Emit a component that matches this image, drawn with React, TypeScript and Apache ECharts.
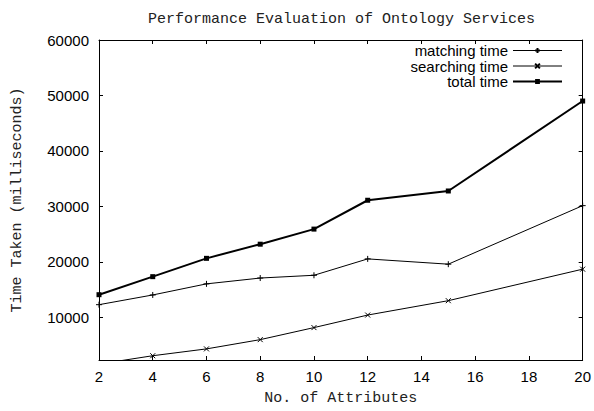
import React, { useEffect, useRef } from "react";
import * as echarts from "echarts";

const attributes = [2, 4, 6, 8, 10, 12, 15, 20];
const matchingTime = [12300, 14050, 16050, 17100, 17600, 20550, 19600, 30150];
const searchingTime = [1600, 3100, 4330, 6000, 8170, 10430, 13020, 18700];
const totalTime = [14100, 17350, 20650, 23200, 25920, 31120, 32790, 49000];
const xTicks = [2, 4, 6, 8, 10, 12, 14, 16, 18, 20];
const yTicks = [10000, 20000, 30000, 40000, 50000, 60000];

const Y_MIN = 2330;
const Y_MAX = 60000;

const MONO = "'Liberation Mono', 'DejaVu Sans Mono', monospace";
const SANS = "'Liberation Sans', Arial, sans-serif";

const plusPath = "path://M0,5L10,5M5,0L5,10";
const crossPath = "path://M0,0L10,10M0,10L10,0";

export default function App() {
  const ref = useRef<HTMLDivElement>(null);
  useEffect(() => {
    document.body.style.margin = "0";
    if (!ref.current) return;
    const chart = echarts.init(ref.current, null, { renderer: "svg" });
    const pairs = (ys: number[]) => attributes.map((x, i) => [x, ys[i]]);
    const plain = (v: number) => String(v);
    const baseX = {
      type: "value" as const,
      min: 2,
      max: 20,
      interval: 2,
      splitLine: { show: false },
      axisLine: { show: true, onZero: false, lineStyle: { color: "#000", width: 1 } },
      axisTick: { show: true, inside: true, length: 4, lineStyle: { color: "#000" } },
    };
    const baseY = {
      type: "value" as const,
      min: Y_MIN,
      max: Y_MAX,
      splitLine: { show: false },
      axisLine: { show: true, onZero: false, lineStyle: { color: "#000", width: 1 } },
      axisTick: { show: true, inside: true, length: 4, customValues: yTicks, lineStyle: { color: "#000" } },
    };
    chart.setOption({
      animation: false,
      backgroundColor: "#fff",
      title: {
        text: "Performance Evaluation of Ontology Services",
        left: 143,
        top: 7,
        textStyle: { fontFamily: MONO, fontSize: 15, fontWeight: "normal", color: "#222" },
      },
      grid: { left: 99, right: 11, top: 40, bottom: 46, containLabel: false },
      legend: {
        orient: "vertical",
        right: 26,
        top: 38,
        align: "right",
        itemWidth: 49,
        itemHeight: 6,
        itemGap: 0.5,
        textStyle: { fontFamily: SANS, fontSize: 15, color: "#000", lineHeight: 15 },
        data: [
          { name: "matching time", lineStyle: { width: 1, color: "#000" } },
          { name: "searching time", lineStyle: { width: 1, color: "#000" } },
          { name: "total time", lineStyle: { width: 2, color: "#000" } },
        ],
      },
      xAxis: [
        {
          ...baseX,
          position: "bottom",
          name: "No. of Attributes",
          nameLocation: "middle",
          nameGap: 31,
          nameTextStyle: { fontFamily: MONO, fontSize: 15, color: "#222" },
          axisLabel: { fontFamily: SANS, fontSize: 15, color: "#000", margin: 9, customValues: xTicks, formatter: plain },
        },
        {
          ...baseX,
          position: "top",
          axisLabel: { show: false },
        },
      ],
      yAxis: [
        {
          ...baseY,
          position: "left",
          name: "Time Taken (milliseconds)",
          nameLocation: "middle",
          nameGap: 74,
          nameTextStyle: { fontFamily: MONO, fontSize: 15, color: "#222" },
          axisLabel: { fontFamily: SANS, fontSize: 15, color: "#000", margin: 10, customValues: yTicks, formatter: plain },
        },
        {
          ...baseY,
          position: "right",
          axisLabel: { show: false },
        },
      ],
      series: [
        {
          name: "matching time",
          type: "line",
          data: pairs(matchingTime),
          symbol: plusPath,
          symbolSize: 6,
          showAllSymbol: true,
          clip: true,
          lineStyle: { color: "#000", width: 1 },
          itemStyle: { color: "#000", borderColor: "#000", borderWidth: 1 },
        },
        {
          name: "searching time",
          type: "line",
          data: pairs(searchingTime),
          symbol: crossPath,
          symbolSize: 5,
          showAllSymbol: true,
          clip: true,
          lineStyle: { color: "#000", width: 1 },
          itemStyle: { color: "#000", borderColor: "#000", borderWidth: 1 },
        },
        {
          name: "total time",
          type: "line",
          data: pairs(totalTime),
          symbol: "rect",
          symbolSize: 5,
          showAllSymbol: true,
          clip: true,
          lineStyle: { color: "#000", width: 2 },
          itemStyle: { color: "#000", borderColor: "#000", borderWidth: 0 },
        },
      ],
    });
    return () => chart.dispose();
  }, []);
  return <div ref={ref} style={{ width: 594, height: 411 }} />;
}
